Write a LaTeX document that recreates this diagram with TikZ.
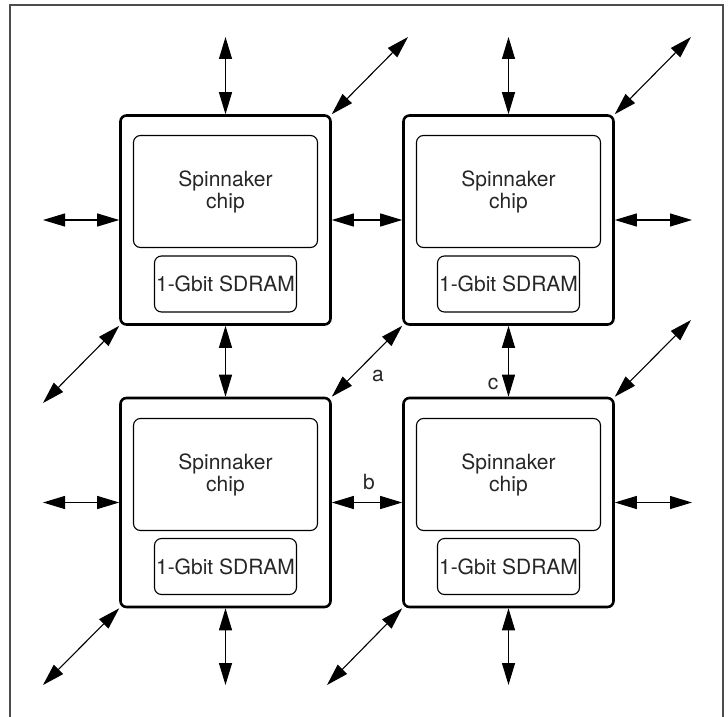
\documentclass[tikz,border=0pt]{standalone}
\usepackage{fontspec}
\setmainfont{TeX Gyre Heros}
\usetikzlibrary{arrows.meta}

\tikzset{
  board/.style={draw=black, line width=2.6pt, rounded corners=6pt, minimum width=210pt, minimum height=209pt},
  chip/.style={draw=black, line width=1.1pt, rounded corners=7pt, minimum width=184pt, minimum height=112pt, align=center, text=black!85, font=\fontsize{21}{22}\selectfont},
  ram/.style={draw=black, line width=1.1pt, rounded corners=7pt, minimum width=142pt, minimum height=56pt, inner sep=0pt, text=black!85, font=\fontsize{21}{22}\selectfont},
  link/.style={{Triangle[length=22pt,width=13pt]}-{Triangle[length=22pt,width=13pt]}, line width=1.1pt},
  tag/.style={text=black!85, font=\fontsize{21}{22}\selectfont},
}

\begin{document}
\begin{tikzpicture}[x=1pt, y=-1pt]
                    \clip (0,0) rectangle (728,717);
                    \draw[line width=1.2pt, black!70] (10,5) rectangle (723,740);

                    % four boards
                    \node[board, name=tl] at (225.5,220) {};
                    \node[chip] at (225.5,191.5) {Spinnaker\\chip};
                    \node[ram] at (225.5,284) {1-Gbit SDRAM};

                    \node[board, name=tr] at (508.5,220) {};
                    \node[chip] at (508.5,191.5) {Spinnaker\\chip};
                    \node[ram] at (508.5,284) {1-Gbit SDRAM};

                    \node[board, name=bl] at (225.5,502.5) {};
                    \node[chip] at (225.5,474.5) {Spinnaker\\chip};
                    \node[ram] at (225.5,566.5) {1-Gbit SDRAM};

                    \node[board, name=br] at (508.5,502.5) {};
                    \node[chip] at (508.5,474.5) {Spinnaker\\chip};
                    \node[ram] at (508.5,566.5) {1-Gbit SDRAM};

                    % free ends
                    \coordinate (tlN) at (225.5,37);
                    \coordinate (tlW) at (43,220);
                    \coordinate (tlNE) at (408,37);
                    \coordinate (tlSW) at (43,403);
                    \coordinate (trN) at (508.5,37);
                    \coordinate (trE) at (692,220);
                    \coordinate (trNE) at (691,37);
                    \coordinate (blW) at (43,502.5);
                    \coordinate (blSW) at (43,685);
                    \coordinate (blS) at (225.5,685);
                    \coordinate (brE) at (692,502.5);
                    \coordinate (brNE) at (691,320);
                    \coordinate (brSW) at (327,685);
                    \coordinate (brS) at (508.5,685);

                    \draw[link] (tl.north) -- (tlN);
                    \draw[link] (tl.west) -- (tlW);
                    \draw[link] (tl.north east) -- (tlNE);
                    \draw[link] (tl.south west) -- (tlSW);
                    \draw[link] (tr.north) -- (trN);
                    \draw[link] (tr.east) -- (trE);
                    \draw[link] (tr.north east) -- (trNE);
                    \draw[link] (bl.west) -- (blW);
                    \draw[link] (bl.south west) -- (blSW);
                    \draw[link] (bl.south) -- (blS);
                    \draw[link] (br.east) -- (brE);
                    \draw[link] (br.north east) -- (brNE);
                    \draw[link] (br.south west) -- (brSW);
                    \draw[link] (br.south) -- (brS);

                    % links between boards
                    \draw[link] (tl.east) -- (tr.west);
                    \draw[link] (tl.south) -- (bl.north);
                    \draw[link] (tr.south) -- (br.north);
                    \draw[link] (bl.east) -- (br.west);
                    \draw[link] (bl.north east) -- (tr.south west);

                    \node[tag, name=la] at (378,376) {a};
                    \node[tag, name=lb] at (369,482) {b};
                    \node[tag, name=lc] at (493,384) {c};
                \end{tikzpicture}
\end{document}
